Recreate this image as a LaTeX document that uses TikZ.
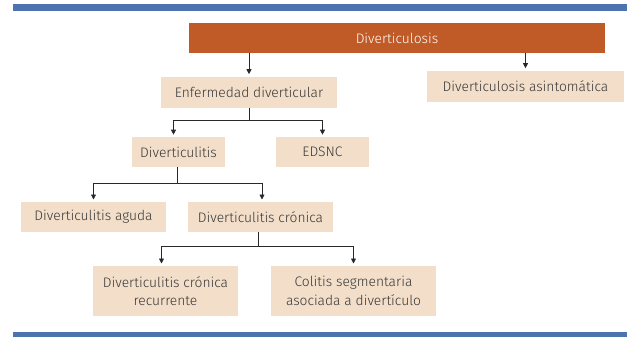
\documentclass[tikz,border=0pt]{standalone}
\usepackage{fontspec}
\setmainfont{Fira Sans Light}
\usetikzlibrary{arrows.meta,calc}
\definecolor{barblue}{RGB}{78,116,176}
\definecolor{boxorange}{RGB}{192,91,40}
\definecolor{boxbeige}{RGB}{242,222,201}
\definecolor{txtgray}{RGB}{55,55,55}
\definecolor{linegray}{RGB}{40,40,40}
\begin{document}
\begin{tikzpicture}[x=1pt,y=-1pt,
  every node/.style={inner sep=0pt,outer sep=0pt},
  bx/.style={fill=boxbeige,text=txtgray,font=\fontsize{13.8}{18.5}\selectfont,align=center,anchor=center},
  topbox/.style={fill=boxorange,text=white,font=\fontsize{13.8}{18.5}\selectfont,anchor=center},
  conn/.style={draw=linegray,line width=0.8pt},
  arr/.style={conn,-{Triangle[length=5pt,width=5pt]},shorten >=2.5pt}]
\useasboundingbox (0,0) rectangle (627,337);
\fill[barblue] (13,4) rectangle (627,11);
\fill[barblue] (13,332) rectangle (627,337);
\node[topbox,minimum width=416pt,minimum height=30pt] (top) at (397,38.5) {Diverticulosis};
\node[bx,minimum width=197pt,minimum height=31pt] (asint) at (525.5,86.2) {Diverticulosis asintomática};
\node[bx,minimum width=176pt,minimum height=31pt] (enf) at (249,92.2) {Enfermedad diverticular};
\node[bx,minimum width=93pt,minimum height=30pt] (ditis) at (178.5,152.2) {Diverticulitis};
\node[bx,minimum width=93pt,minimum height=30pt] (edsnc) at (322.5,152.2) {EDSNC};
\node[bx,minimum width=145pt,minimum height=30pt] (aguda) at (93.5,217) {Diverticulitis aguda};
\node[bx,minimum width=145pt,minimum height=30pt] (cronica) at (260.5,217) {Diverticulitis crónica};
\node[bx,minimum width=145pt,minimum height=50pt] (recur) at (165.5,291) {Diverticulitis crónica\\recurrente};
\node[bx,minimum width=165pt,minimum height=50pt] (colitis) at (353.5,291) {Colitis segmentaria\\asociada a divertículo};
% connectors from top
\draw[arr] (top.south -| enf.north) -- (enf.north);
\draw[arr] (top.south -| asint.north) -- (asint.north);
% enf -> ditis, edsnc
\coordinate (j1) at ($(enf.south)+(0,12.5)$);
\coordinate (a1) at (173.5,0);
\coordinate (a2) at (322.5,0);
\draw[conn] (enf.south) -- (j1);
\draw[arr] (j1) -| (a1 |- ditis.north);
\draw[arr] (j1) -| (a2 |- edsnc.north);
% ditis -> aguda, cronica
\coordinate (b0) at (177,0);
\coordinate (j2) at (b0 |- 0,183.5);
\coordinate (b1) at (93.5,0);
\coordinate (b2) at (262,0);
\draw[conn] (b0 |- ditis.south) -- (j2);
\draw[arr] (j2) -| (b1 |- aguda.north);
\draw[arr] (j2) -| (b2 |- cronica.north);
% cronica -> recur, colitis
\coordinate (c0) at (258,0);
\coordinate (j3) at (c0 |- 0,246);
\coordinate (c1) at (161.5,0);
\coordinate (c2) at (353.5,0);
\draw[conn] (c0 |- cronica.south) -- (j3);
\draw[arr] (j3) -| (c1 |- recur.north);
\draw[arr] (j3) -| (c2 |- colitis.north);
\end{tikzpicture}
\end{document}
